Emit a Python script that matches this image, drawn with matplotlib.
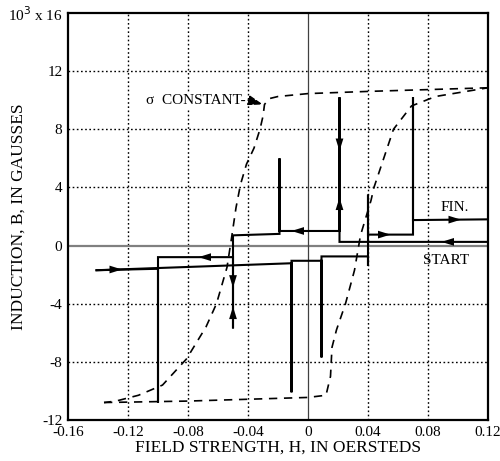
import matplotlib.pyplot as plt

plt.rcParams['font.family'] = ['Liberation Serif', 'DejaVu Serif']
plt.rcParams['font.size'] = 11

# --- data (H in oersteds, B in 10^3 gauss) ---
# stepped measurement path, first part (START -> left end)
path1_H = [0.12, 0.021, 0.021, 0.021, -0.019, -0.019, -0.019, -0.05, -0.05, -0.05, -0.1, -0.1, -0.1, -0.141]
path1_B = [0.25, 0.25, 10.2, 1.0, 1.0, 6.0, 0.8, 0.7, -5.7, -0.8, -0.8, -10.8, -1.6, -1.7]
# second part (left end -> FIN.)
path2_H = [-0.141, -0.011, -0.011, -0.011, 0.009, 0.009, 0.009, 0.04, 0.04, 0.04, 0.04, 0.07, 0.07, 0.07, 0.12]
path2_B = [-1.7, -1.22, -10.1, -1.05, -1.05, -7.7, -0.75, -0.75, -1.4, 3.5, 0.75, 0.75, 10.2, 1.75, 1.8]

# sigma constant loop (dashed)
down_H = [0.12, 0.04, 0.0, -0.02, -0.026, -0.029, -0.030, -0.032, -0.036, -0.041, -0.045, -0.048,
          -0.051, -0.054, -0.061, -0.068, -0.081, -0.097, -0.113, -0.128, -0.136]
down_B = [10.85, 10.6, 10.45, 10.25, 10.1, 9.7, 8.9, 8.0, 6.7, 5.6, 4.2, 2.6,
          0.5, -1.5, -4.0, -5.6, -7.8, -9.6, -10.3, -10.7, -10.8]
up_H = [-0.136, -0.08, 0.0, 0.012, 0.015, 0.016, 0.019, 0.025, 0.031, 0.035, 0.042, 0.044,
        0.057, 0.069, 0.085, 0.12]
up_B = [-10.8, -10.7, -10.45, -10.3, -9.0, -7.0, -5.8, -4.0, -1.7, 0.7, 3.1, 4.0,
        8.0, 9.6, 10.25, 10.85]

# arrow heads: tip position and direction
arrow_H = [0.089, 0.021, 0.021, -0.011, -0.05, -0.05, -0.073, -0.124, 0.055, 0.102]
arrow_B = [0.25, 3.3, 6.5, 1.0, -2.9, -4.2, -0.8, -1.65, 0.75, 1.78]
arrow_dir = ['l', 'u', 'd', 'l', 'd', 'u', 'l', 'r', 'r', 'r']

xticks = [-0.16, -0.12, -0.08, -0.04, 0, 0.04, 0.08, 0.12]
xticklabels = ['-0.16', '-0.12', '-0.08', '-0.04', '0', '0.04', '0.08', '0.12']
yticks = [-12, -8, -4, 0, 4, 8, 12, 16]
yticklabels = ['-12', '-8', '-4', '0', '4', '8', '12', r'10$^3$ x 16']

fig = plt.figure(figsize=(5.0, 4.61), dpi=100)
ax = fig.add_axes([0.136, 0.089, 0.84, 0.883])

ax.set_xlim(-0.16, 0.12)
ax.set_ylim(-12, 16)

# grid
for x in [-0.12, -0.08, -0.04, 0.04, 0.08]:
    ax.axvline(x, color='k', ls=(0, (1.2, 1.8)), lw=1.0, zorder=1)
for y in [-8, -4, 4, 8, 12]:
    ax.axhline(y, color='k', ls=(0, (1.2, 1.8)), lw=1.0, zorder=1)
ax.axhline(0, color='0.5', lw=1.6, zorder=1)
ax.axvline(0, color='0.25', lw=0.9, zorder=1)

# dashed loop
ax.plot(down_H, down_B, color='k', ls=(0, (5, 4)), lw=1.2, zorder=2)
ax.plot(up_H, up_B, color='k', ls=(0, (5, 4)), lw=1.2, zorder=2)

# stepped path
ax.plot(path1_H, path1_B, color='k', lw=1.5, zorder=3, solid_joinstyle='miter')
ax.plot(path2_H, path2_B, color='k', lw=1.5, zorder=3, solid_joinstyle='miter')

# arrow heads
step = {'l': (0.006, 0), 'r': (-0.006, 0), 'u': (0, -0.6), 'd': (0, 0.6)}
for h, b, d in zip(arrow_H, arrow_B, arrow_dir):
    dh, db = step[d]
    ax.annotate('', xy=(h, b), xytext=(h + dh, b + db),
                arrowprops=dict(arrowstyle='-|>,head_length=0.9,head_width=0.28',
                                mutation_scale=10, color='k', lw=0,
                                shrinkA=0, shrinkB=0), zorder=4)

# labels on the chart
ax.text(-0.108, 10.0, 'σ  CONSTANT-', ha='left', va='center', fontsize=11,
        bbox=dict(facecolor='white', edgecolor='none', pad=1), zorder=3)
ax.annotate('', xy=(-0.030, 9.7), xytext=(-0.040, 10.0),
            arrowprops=dict(arrowstyle='-|>,head_length=0.9,head_width=0.3',
                            mutation_scale=10, color='k', lw=1.0, ls='--',
                            shrinkA=0, shrinkB=0), zorder=4)
ax.text(0.098, 2.6, 'FIN.', ha='center', va='center', fontsize=11)
ax.text(0.092, -1.0, 'START', ha='center', va='center', fontsize=11)

ax.set_xticks(xticks)
ax.set_xticklabels(xticklabels)
ax.set_yticks(yticks)
ax.set_yticklabels(yticklabels)
ax.tick_params(length=0, pad=4, labelsize=11)
for s in ax.spines.values():
    s.set_linewidth(1.6)

ax.set_xlabel('FIELD STRENGTH, H, IN OERSTEDS', fontsize=12.5, labelpad=1)
ax.set_ylabel('INDUCTION, B, IN GAUSSES', fontsize=12.5)
ax.yaxis.set_label_coords(-0.098, 0.5)

fig.savefig('out.png', dpi=100)
